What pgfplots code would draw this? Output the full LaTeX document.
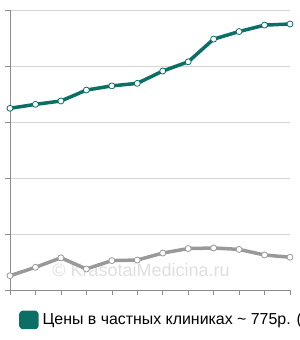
\documentclass[border=0pt]{standalone}
\usepackage{pgfplots}
\pgfplotsset{compat=1.18}
\usepackage{fontspec}
\setmainfont{Liberation Sans}
\definecolor{tealc}{HTML}{0B6F66}
\definecolor{grayc}{HTML}{999999}
\definecolor{axisc}{HTML}{8C8C8C}
\definecolor{gridc}{HTML}{D4D4D4}
\begin{document}
\begin{tikzpicture}
\clip (-10bp,-50bp) rectangle (290bp,290bp);
\begin{axis}[
  scale only axis, width=280bp, height=280bp,
  xmin=0, xmax=11, ymin=0, ymax=1000,
  xtick={0,...,11}, ytick={0,200,400,600,800,1000},
  xticklabels={}, yticklabels={},
  tick align=outside, major tick length=5bp,
  tick style={axisc, line width=0.6bp},
  axis x line*=bottom, axis y line*=left,
  axis line style={axisc, line width=0.8bp},
  ymajorgrids, grid style={gridc, line width=0.6bp},
  clip=false,
  legend style={at={(axis description cs:0.0321,-0.107)}, anchor=west, draw=none, fill=none, inner sep=0pt, font=\fontsize{15.9bp}{18bp}\selectfont, legend cell align=left},
  legend image code/.code={\fill[tealc, rounded corners=1.5bp] (0bp,-7.5bp) rectangle (16bp,7.5bp);},
]
\node[text=gray!25, font=\fontsize{18bp}{20bp}\selectfont] at (axis cs:5.15,70) {© KrasotaiMedicina.ru};
\addplot[grayc, line width=3.5bp, line join=round, mark=*, mark size=3bp, mark options={fill=white, draw=grayc, line width=0.8bp}, forget plot]
coordinates {(0,51) (1,81) (2,115) (3,75) (4,105) (5,107) (6,132) (7,148) (8,150) (9,145) (10,125) (11,117)};
\addplot[tealc, line width=3.5bp, line join=round, mark=*, mark size=3bp, mark options={fill=white, draw=tealc, line width=0.8bp}]
coordinates {(0,649) (1,663) (2,675) (3,714) (4,729) (5,738) (6,782) (7,815) (8,896) (9,923) (10,946) (11,950)};
\addlegendentry{\hspace{2bp}Цены в частных клиниках \textasciitilde{} 775р. (}
\end{axis}
\end{tikzpicture}
\end{document}
